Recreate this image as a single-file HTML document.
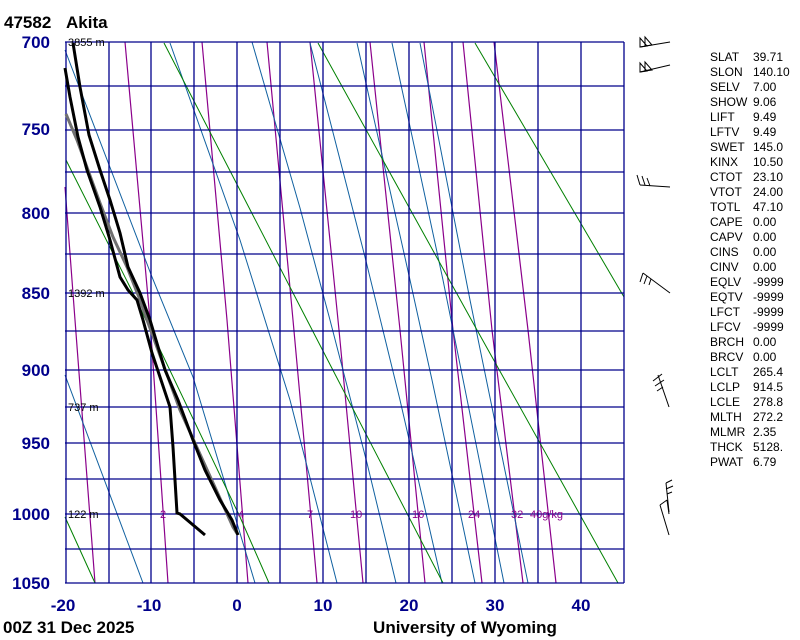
<!DOCTYPE html>
<html><head><meta charset="utf-8"><style>
html,body{margin:0;padding:0;background:#fff;}
svg{display:block;font-family:"Liberation Sans",sans-serif;}
.pl{font-weight:bold;font-size:17px;fill:#00008b;}
.tb{font-size:12px;fill:#000;}
</style></head><body>
<svg width="800" height="640" viewBox="0 0 800 640" xmlns="http://www.w3.org/2000/svg">
<rect width="800" height="640" fill="#fff"/>
<g stroke="#8b008b" stroke-width="1.2" fill="none">
<polyline points="65,187 75,320 95,583"/>
<polyline points="125,42 150,320 168,583"/>
<polyline points="202,42 227,320 248,583"/>
<polyline points="267,42 293,320 317,583"/>
<polyline points="310,42 339,330 363,583"/>
<polyline points="370,42 400,330 425,583"/>
<polyline points="424,42 453,330 482,583"/>
<polyline points="463,42 492,330 523,583"/>
<polyline points="494,42 528,330 556,583"/>
</g>
<g stroke="#1060a0" stroke-width="1" fill="none">
<polyline points="65,375 143,583"/>
<polyline points="65,50 152,277 193,377 255,583"/>
<polyline points="170,43 240,240 290,400 337,583"/>
<polyline points="252,42 300,208 330,320 367,463 396,583"/>
<polyline points="310,43 365,257 400,400 442,583"/>
<polyline points="357,43 410,280 432,380 475,583"/>
<polyline points="392,43 443,280 504,583"/>
<polyline points="420,43 470,300 528,583"/>
</g>
<g stroke="#008000" stroke-width="1" fill="none">
<polyline points="65,517 95,583"/>
<polyline points="66,160 133,293 240,517 269,583"/>
<polyline points="164,43 307,320 443,583"/>
<polyline points="318,43 477,330 618,583"/>
<polyline points="475,43 624,297"/>
</g>
<g stroke="#00008b" stroke-width="1.3" fill="none">
<line x1="65" y1="42" x2="624" y2="42"/><line x1="65" y1="86" x2="624" y2="86"/>
<line x1="65" y1="130" x2="624" y2="130"/><line x1="65" y1="172" x2="624" y2="172"/>
<line x1="65" y1="213" x2="624" y2="213"/><line x1="65" y1="254" x2="624" y2="254"/>
<line x1="65" y1="293" x2="624" y2="293"/><line x1="65" y1="331" x2="624" y2="331"/>
<line x1="65" y1="370" x2="624" y2="370"/><line x1="65" y1="407" x2="624" y2="407"/>
<line x1="65" y1="443" x2="624" y2="443"/><line x1="65" y1="479" x2="624" y2="479"/>
<line x1="65" y1="514" x2="624" y2="514"/><line x1="65" y1="549" x2="624" y2="549"/>
<line x1="65" y1="583" x2="624" y2="583"/>
<line x1="66" y1="42" x2="66" y2="583"/><line x1="109" y1="42" x2="109" y2="583"/>
<line x1="151" y1="42" x2="151" y2="583"/><line x1="194" y1="42" x2="194" y2="583"/>
<line x1="237" y1="42" x2="237" y2="583"/><line x1="280" y1="42" x2="280" y2="583"/>
<line x1="323" y1="42" x2="323" y2="583"/><line x1="366" y1="42" x2="366" y2="583"/>
<line x1="409" y1="42" x2="409" y2="583"/><line x1="452" y1="42" x2="452" y2="583"/>
<line x1="495" y1="42" x2="495" y2="583"/><line x1="538" y1="42" x2="538" y2="583"/>
<line x1="581" y1="42" x2="581" y2="583"/><line x1="624" y1="42" x2="624" y2="583"/>
</g>
<g font-size="11" fill="#8b008b">
<text x="160" y="518">2</text><text x="238" y="518">4</text><text x="307" y="518">7</text>
<text x="350" y="518">10</text><text x="412" y="518">16</text><text x="468" y="518">24</text>
<text x="511" y="518">32</text><text x="530" y="518">40g/kg</text>
</g>
<g font-size="11" fill="#000">
<text x="68" y="46">3855 m</text><text x="68" y="297">1392 m</text>
<text x="68" y="411">737 m</text><text x="68" y="518">122 m</text>
</g>
<polyline points="66,114 77,140 88,170 100,203 113,237 127,267 140,300 147,320 180,410 233,527 238,535" stroke="#707070" stroke-width="3" fill="none"/>
<polyline points="73,43 80,87 89,135 100,170 110,200 120,233 128,267 140,293 150,320 165,370 178,400 193,440 205,470 220,500 232,520 238,535" stroke="#000" stroke-width="3" fill="none"/>
<polyline points="65,68 70,97 78,137 87,170 100,207 110,240 120,277 128,290 137,300 143,320 152,353 170,407 173,447 177,513 180,514 205,535" stroke="#000" stroke-width="3" fill="none"/>
<g stroke="#000" stroke-width="1" fill="none">
<line x1="640" y1="47" x2="670" y2="42"/><polygon points="640,47 640,38 647,46"/><polygon points="645,46 645,37 652,45"/>
<line x1="640" y1="72" x2="670" y2="65"/><polygon points="640,72 640,63 647,71"/><polygon points="645,71 645,62 652,70"/>
<line x1="640" y1="185" x2="670" y2="187"/><line x1="637" y1="175" x2="640" y2="185"/><line x1="642" y1="176" x2="645" y2="185"/><line x1="647" y1="178" x2="650" y2="186"/>
<line x1="643" y1="273" x2="670" y2="293"/><line x1="643" y1="273" x2="640" y2="282"/><line x1="647" y1="276" x2="644" y2="284"/><line x1="651" y1="279" x2="649" y2="285"/>
<line x1="658" y1="375" x2="669" y2="407"/><line x1="653" y1="381" x2="662" y2="374"/><line x1="655" y1="386" x2="664" y2="380"/><line x1="657" y1="391" x2="663" y2="387"/>
<line x1="666" y1="483" x2="669" y2="512"/><line x1="666" y1="483" x2="672" y2="480"/><line x1="666" y1="489" x2="673" y2="486"/><line x1="667" y1="494" x2="672" y2="492"/>
<line x1="660" y1="505" x2="669" y2="535"/><line x1="660" y1="505" x2="667" y2="500"/><line x1="667" y1="500" x2="669" y2="514"/>
</g>
<text x="4" y="28" font-size="17" font-weight="bold">47582</text>
<text x="66" y="28" font-size="17" font-weight="bold">Akita</text>
<g class="pl" text-anchor="end">
<text x="50" y="48">700</text><text x="50" y="135">750</text><text x="50" y="219">800</text>
<text x="50" y="299">850</text><text x="50" y="376">900</text><text x="50" y="449">950</text>
<text x="50" y="520">1000</text><text x="50" y="589">1050</text>
</g>
<g class="pl" text-anchor="middle">
<text x="63" y="611">-20</text><text x="149" y="611">-10</text><text x="237" y="611">0</text>
<text x="323" y="611">10</text><text x="409" y="611">20</text><text x="495" y="611">30</text>
<text x="581" y="611">40</text>
</g>
<text x="3" y="633" font-size="17" font-weight="bold">00Z 31 Dec 2025</text>
<text x="465" y="633" font-size="17" font-weight="bold" text-anchor="middle">University of Wyoming</text>
<g class="tb">
<text x="710" y="61">SLAT</text><text x="753" y="61">39.71</text>
<text x="710" y="76">SLON</text><text x="753" y="76">140.10</text>
<text x="710" y="91">SELV</text><text x="753" y="91">7.00</text>
<text x="710" y="106">SHOW</text><text x="753" y="106">9.06</text>
<text x="710" y="121">LIFT</text><text x="753" y="121">9.49</text>
<text x="710" y="136">LFTV</text><text x="753" y="136">9.49</text>
<text x="710" y="151">SWET</text><text x="753" y="151">145.0</text>
<text x="710" y="166">KINX</text><text x="753" y="166">10.50</text>
<text x="710" y="181">CTOT</text><text x="753" y="181">23.10</text>
<text x="710" y="196">VTOT</text><text x="753" y="196">24.00</text>
<text x="710" y="211">TOTL</text><text x="753" y="211">47.10</text>
<text x="710" y="226">CAPE</text><text x="753" y="226">0.00</text>
<text x="710" y="241">CAPV</text><text x="753" y="241">0.00</text>
<text x="710" y="256">CINS</text><text x="753" y="256">0.00</text>
<text x="710" y="271">CINV</text><text x="753" y="271">0.00</text>
<text x="710" y="286">EQLV</text><text x="753" y="286">-9999</text>
<text x="710" y="301">EQTV</text><text x="753" y="301">-9999</text>
<text x="710" y="316">LFCT</text><text x="753" y="316">-9999</text>
<text x="710" y="331">LFCV</text><text x="753" y="331">-9999</text>
<text x="710" y="346">BRCH</text><text x="753" y="346">0.00</text>
<text x="710" y="361">BRCV</text><text x="753" y="361">0.00</text>
<text x="710" y="376">LCLT</text><text x="753" y="376">265.4</text>
<text x="710" y="391">LCLP</text><text x="753" y="391">914.5</text>
<text x="710" y="406">LCLE</text><text x="753" y="406">278.8</text>
<text x="710" y="421">MLTH</text><text x="753" y="421">272.2</text>
<text x="710" y="436">MLMR</text><text x="753" y="436">2.35</text>
<text x="710" y="451">THCK</text><text x="753" y="451">5128.</text>
<text x="710" y="466">PWAT</text><text x="753" y="466">6.79</text>
</g>
</svg>
</body></html>
